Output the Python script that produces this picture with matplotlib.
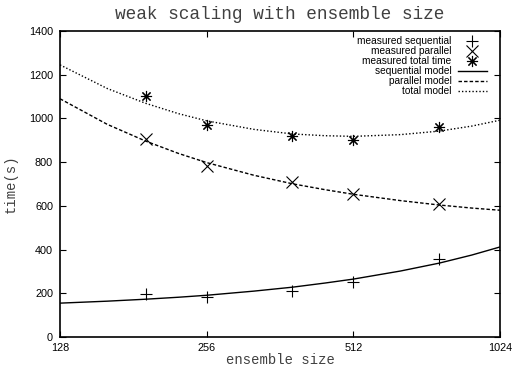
import matplotlib
matplotlib.use("Agg")
import matplotlib.pyplot as plt
from matplotlib.ticker import FixedLocator, NullLocator

# measured points
ensemble = [192, 256, 384, 512, 768]
seq_meas = [197, 183, 210, 252, 357]
par_meas = [904, 782, 709, 654, 608]
tot_meas = [1102, 970, 919, 903, 960]

# model curves, values
model_n = [128, 160, 192, 224, 256, 320, 384, 448, 512, 640, 768, 896, 1024]
seq_model = [155, 164, 173, 182, 191, 210, 228, 247, 265, 302, 338, 375, 412]
par_model = [1090, 973, 896, 840, 798, 740, 701, 674, 653, 624, 604, 590, 580]
tot_model = [1245, 1137, 1069, 1022, 989, 950, 929, 921, 918, 926, 942, 965, 992]

xticks = [128, 256, 512, 1024]
yticks = [0, 200, 400, 600, 800, 1000, 1200, 1400]

mono = "Liberation Mono"
sans = "Liberation Sans"

fig = plt.figure(figsize=(5.13, 3.67), dpi=100)
ax = fig.add_axes([0.117, 0.0817, 0.8577, 0.8338])

ax.plot(ensemble, seq_meas, linestyle="none", marker="+", ms=8, mew=0.8,
        color="black", label="measured sequential")
ax.plot(ensemble, par_meas, linestyle="none", marker="x", ms=8, mew=0.8,
        color="black", label="measured parallel")
ax.plot(ensemble, tot_meas, linestyle="none", marker=(8, 2, 0), ms=8, mew=0.8,
        color="black", label="measured total time")
ax.plot(model_n, seq_model, "-", color="black", lw=1.0, label="sequential model")
ax.plot(model_n, par_model, color="black", lw=1.0, dashes=(2.5, 1.5),
        label="parallel model")
ax.plot(model_n, tot_model, color="black", lw=1.0, dashes=(1, 1.5),
        label="total model")

ax.set_xscale("log", base=2)
ax.set_xlim(128, 1024)
ax.set_ylim(0, 1400)
ax.xaxis.set_major_locator(FixedLocator(xticks))
ax.xaxis.set_minor_locator(NullLocator())
ax.set_xticks(xticks)
ax.set_xticklabels([str(v) for v in xticks], fontfamily=sans, fontsize=7.8)
ax.set_yticks(yticks)
ax.set_yticklabels([str(v) for v in yticks], fontfamily=sans, fontsize=7.8)
ax.tick_params(direction="in", length=4.5, width=0.8, top=True, right=True)
ax.tick_params(axis="y", pad=5)
ax.tick_params(axis="x", pad=4.5)

for s in ax.spines.values():
    s.set_linewidth(1.2)

ax.set_title("weak scaling with ensemble size", fontfamily=mono, fontsize=12.8,
             color="#404040", pad=9)
ax.set_xlabel("ensemble size", fontfamily=mono, fontsize=10, color="#404040",
              labelpad=0)
ax.set_ylabel("time(s)", fontfamily=mono, fontsize=10, color="#404040",
              labelpad=8)

leg = ax.legend(loc="upper right", bbox_to_anchor=(0.9795, 0.9967),
                frameon=False, markerfirst=False,
                prop={"family": sans, "size": 7.3}, handlelength=2.9,
                handletextpad=0.6, labelspacing=0.0, borderaxespad=0.0)
for t in leg.get_texts():
    t.set_ha("right")

fig.savefig("out.png", dpi=100)
